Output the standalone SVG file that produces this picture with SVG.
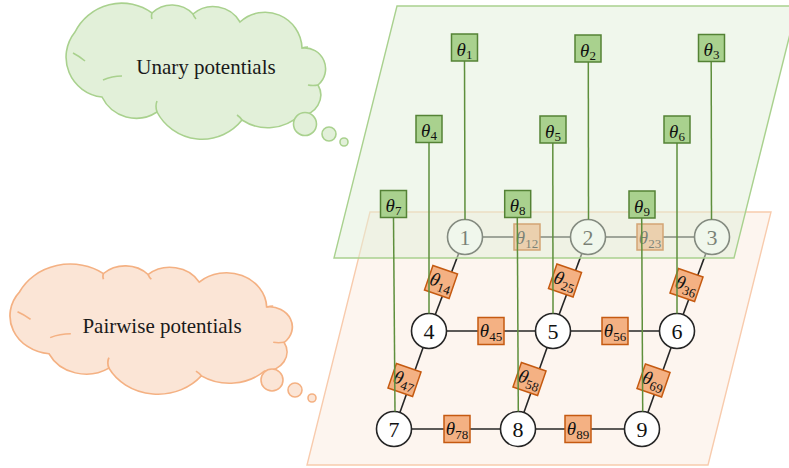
<svg xmlns="http://www.w3.org/2000/svg" width="789" height="468" viewBox="0 0 789 468">
  <style>
    .cloud-g { fill: #E2F0D9; stroke: #A9D18E; stroke-width: 1.6; }
    .cloud-o { fill: #FBE5D6; stroke: #F4B183; stroke-width: 1.6; }
    .stub-g { fill: none; stroke: #A9D18E; stroke-width: 1.6; }
    .stub-o { fill: none; stroke: #F4B183; stroke-width: 1.6; }
    .cloud-text { font-family: "Liberation Serif", "Times New Roman", serif; font-size: 21px; fill: #1a1a1a; text-anchor: middle; }
    .plane-g { fill: #E2F0D9; fill-opacity: 0.5; stroke: #A9D18E; stroke-width: 1.4; }
    .plane-o { fill: #FBE5D6; fill-opacity: 0.4; stroke: #F8CBAD; stroke-width: 1.4; }
    .edge { stroke: #262626; stroke-width: 1.6; fill: none; }
    .node circle { fill: #ffffff; stroke: #262626; stroke-width: 1.6; }
    .node text { font-family: "Liberation Serif", "Times New Roman", serif; font-size: 22px; fill: #111; text-anchor: middle; }
    .ubox rect { fill: #A9D18E; stroke: #548235; stroke-width: 1.5; }
    .pbox rect { fill: #F4B183; stroke: #C55A11; stroke-width: 1.5; }
    .lab { font-family: "Liberation Serif", "Times New Roman", serif; font-style: italic; font-size: 19px; fill: #111; text-anchor: middle; }
    .sub { font-style: normal; font-size: 13px; }
    .uline { stroke: #5E8F3C; stroke-width: 1.5; fill: none; }
  </style>
  <defs>
    <!-- cloud outline, drawn in the frame of the upper cloud -->
    <path id="cloudShape" d="M102,97 A40,40 0 0 1 75,32 A52,52 0 0 1 152,13 A29,29 0 0 1 193,14 A31,31 0 0 1 240,22 A37,37 0 0 1 302,48 A21,21 0 0 1 318,85 A20,20 0 0 1 300,115 A47,47 0 0 1 242,120 A51,51 0 0 1 157,112 A38,38 0 0 1 102,97 Z"/>
    <path id="cloudStubs" d="M73,53 Q79,56 85,61 M103,80 Q112,76 122,76 M157,112 Q155,106 157,101 M237,115 Q240,117 242,120 M302,48 Q305,47 308,47 M318,85 Q313,86 308,85 M152,13 Q151,16 152,19 M193,14 Q194,17 196,19"/>
  </defs>

  <!-- thought clouds -->
  <g id="cloud-unary">
    <use href="#cloudShape" class="cloud-g"/>
    <use href="#cloudStubs" class="stub-g"/>
    <circle cx="305" cy="124" r="11.5" class="cloud-g"/>
    <circle cx="329" cy="134" r="7" class="cloud-g"/>
    <circle cx="344" cy="142" r="4" class="cloud-g"/>
    <text x="206" y="74" class="cloud-text">Unary potentials</text>
  </g>
  <g id="cloud-pairwise">
    <g transform="matrix(1.088 0 0 0.956 -61.9 261.1)">
      <use href="#cloudShape" class="cloud-o"/>
      <use href="#cloudStubs" class="stub-o"/>
    </g>
    <circle cx="272" cy="380" r="11" class="cloud-o"/>
    <circle cx="295" cy="390" r="7" class="cloud-o"/>
    <circle cx="312" cy="398" r="4" class="cloud-o"/>
    <text x="162" y="333" class="cloud-text">Pairwise potentials</text>
  </g>

  <!-- pairwise layer -->
  <polygon id="plane-pairwise" class="plane-o" points="370,212 771,212 708,465 307,465"/>

  <g id="connectors">
    <line class="edge" x1="465" y1="237" x2="588" y2="237"/>
    <line class="edge" x1="588" y1="237" x2="712" y2="237"/>
    <line class="edge" x1="429" y1="331" x2="553" y2="331"/>
    <line class="edge" x1="553" y1="331" x2="677" y2="331"/>
    <line class="edge" x1="394" y1="429" x2="518" y2="429"/>
    <line class="edge" x1="518" y1="429" x2="642" y2="429"/>
    <line class="edge" x1="465" y1="237" x2="429" y2="331"/>
    <line class="edge" x1="588" y1="237" x2="553" y2="331"/>
    <line class="edge" x1="712" y1="237" x2="677" y2="331"/>
    <line class="edge" x1="429" y1="331" x2="394" y2="429"/>
    <line class="edge" x1="553" y1="331" x2="518" y2="429"/>
    <line class="edge" x1="677" y1="331" x2="642" y2="429"/>
  </g>

  <!-- pairwise factors -->
  <g id="t12" class="pbox"><rect x="514" y="224" width="26" height="26"/><text class="lab" x="527" y="243.5">θ<tspan class="sub" dy="4">12</tspan></text></g>
  <g id="t23" class="pbox"><rect x="637" y="224" width="26" height="26"/><text class="lab" x="650" y="243.5">θ<tspan class="sub" dy="4">23</tspan></text></g>
  <g id="t45" class="pbox"><rect x="478" y="317.5" width="26" height="27"/><text class="lab" x="491" y="337">θ<tspan class="sub" dy="4">45</tspan></text></g>
  <g id="t56" class="pbox"><rect x="602" y="317.5" width="26" height="27"/><text class="lab" x="615" y="337">θ<tspan class="sub" dy="4">56</tspan></text></g>
  <g id="t78" class="pbox"><rect x="444" y="415.5" width="26" height="27"/><text class="lab" x="457" y="435">θ<tspan class="sub" dy="4">78</tspan></text></g>
  <g id="t89" class="pbox"><rect x="565" y="415.5" width="26" height="27"/><text class="lab" x="578" y="435">θ<tspan class="sub" dy="4">89</tspan></text></g>
  <g id="t14" class="pbox" transform="translate(441 282) rotate(19)"><rect x="-13" y="-13" width="26" height="26"/><text class="lab" x="0" y="6">θ<tspan class="sub" dy="4">14</tspan></text></g>
  <g id="t25" class="pbox" transform="translate(565 280.5) rotate(19)"><rect x="-13" y="-13" width="26" height="26"/><text class="lab" x="0" y="6">θ<tspan class="sub" dy="4">25</tspan></text></g>
  <g id="t36" class="pbox" transform="translate(686.5 285) rotate(19)"><rect x="-13" y="-13" width="26" height="26"/><text class="lab" x="0" y="6">θ<tspan class="sub" dy="4">36</tspan></text></g>
  <g id="t47" class="pbox" transform="translate(404.5 380) rotate(19)"><rect x="-13" y="-13" width="26" height="26"/><text class="lab" x="0" y="6">θ<tspan class="sub" dy="4">47</tspan></text></g>
  <g id="t58" class="pbox" transform="translate(529.5 379) rotate(19)"><rect x="-13" y="-13" width="26" height="26"/><text class="lab" x="0" y="6">θ<tspan class="sub" dy="4">58</tspan></text></g>
  <g id="t69" class="pbox" transform="translate(653.5 380.5) rotate(19)"><rect x="-13" y="-13" width="26" height="26"/><text class="lab" x="0" y="6">θ<tspan class="sub" dy="4">69</tspan></text></g>

  <!-- variable nodes -->
  <g id="n1" class="node"><circle cx="465" cy="237" r="17.5"/><text x="465" y="244.5">1</text></g>
  <g id="n2" class="node"><circle cx="588" cy="237" r="17.5"/><text x="588" y="244.5">2</text></g>
  <g id="n3" class="node"><circle cx="712" cy="237" r="17.5"/><text x="712" y="244.5">3</text></g>
  <g id="n4" class="node"><circle cx="429" cy="331" r="17.5"/><text x="429" y="338.5">4</text></g>
  <g id="n5" class="node"><circle cx="553" cy="331" r="17.5"/><text x="553" y="338.5">5</text></g>
  <g id="n6" class="node"><circle cx="677" cy="331" r="17.5"/><text x="677" y="338.5">6</text></g>
  <g id="n7" class="node"><circle cx="394" cy="429" r="17.5"/><text x="394" y="436.5">7</text></g>
  <g id="n8" class="node"><circle cx="518" cy="429" r="17.5"/><text x="518" y="436.5">8</text></g>
  <g id="n9" class="node"><circle cx="642" cy="429" r="17.5"/><text x="642" y="436.5">9</text></g>

  <!-- unary layer, laid over the top row -->
  <polygon id="plane-unary" class="plane-g" points="397,6 797,6 734,258 334,258"/>

  <g id="unary-links">
    <line class="uline" x1="464.5" y1="61" x2="465" y2="219.5"/>
    <line class="uline" x1="588.3" y1="62" x2="588.5" y2="219.5"/>
    <line class="uline" x1="711.2" y1="61.5" x2="711.5" y2="219.5"/>
    <line class="uline" x1="429" y1="142.5" x2="429" y2="313.5"/>
    <line class="uline" x1="552.8" y1="143" x2="553" y2="313.5"/>
    <line class="uline" x1="677" y1="143" x2="677" y2="313.5"/>
    <line class="uline" x1="393.5" y1="217.5" x2="395" y2="411.5"/>
    <line class="uline" x1="517.3" y1="217.5" x2="518.3" y2="411.5"/>
    <line class="uline" x1="641.7" y1="218" x2="642.7" y2="411.5"/>
  </g>

  <!-- unary factors -->
  <g id="t1" class="ubox"><rect x="451.5" y="34" width="26" height="27"/><text class="lab" x="464.5" y="55.5">θ<tspan class="sub" dy="3">1</tspan></text></g>
  <g id="t2" class="ubox"><rect x="575" y="35" width="26" height="27"/><text class="lab" x="588" y="56.5">θ<tspan class="sub" dy="3">2</tspan></text></g>
  <g id="t3" class="ubox"><rect x="698.5" y="34.5" width="26" height="27"/><text class="lab" x="711.5" y="56">θ<tspan class="sub" dy="3">3</tspan></text></g>
  <g id="t4" class="ubox"><rect x="416" y="115.5" width="26" height="27"/><text class="lab" x="429" y="137">θ<tspan class="sub" dy="3">4</tspan></text></g>
  <g id="t5" class="ubox"><rect x="540" y="116" width="26" height="27"/><text class="lab" x="553" y="137.5">θ<tspan class="sub" dy="3">5</tspan></text></g>
  <g id="t6" class="ubox"><rect x="664" y="116" width="26" height="27"/><text class="lab" x="677" y="137.5">θ<tspan class="sub" dy="3">6</tspan></text></g>
  <g id="t7" class="ubox"><rect x="380.5" y="190.5" width="26" height="27"/><text class="lab" x="393.5" y="212">θ<tspan class="sub" dy="3">7</tspan></text></g>
  <g id="t8" class="ubox"><rect x="504.7" y="190.5" width="26" height="27"/><text class="lab" x="517.7" y="212">θ<tspan class="sub" dy="3">8</tspan></text></g>
  <g id="t9" class="ubox"><rect x="629" y="191" width="26" height="27"/><text class="lab" x="642" y="212.5">θ<tspan class="sub" dy="3">9</tspan></text></g>
</svg>
